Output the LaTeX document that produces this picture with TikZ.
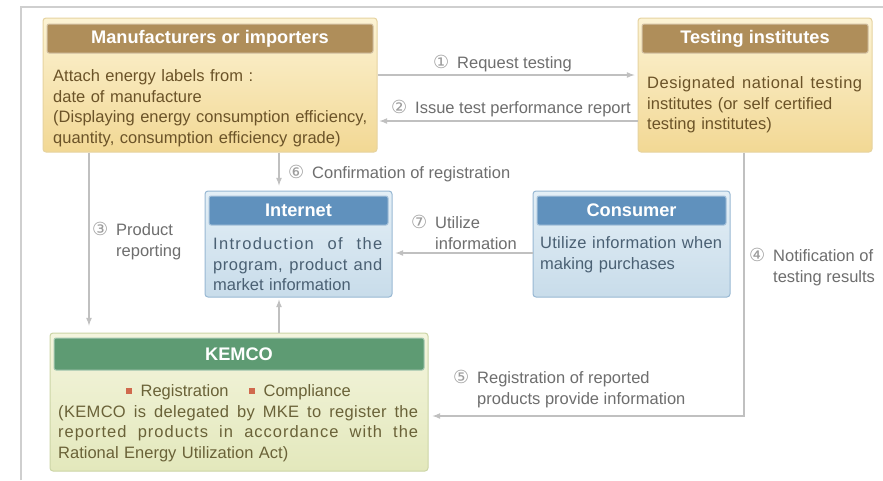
\documentclass[tikz,border=0pt]{standalone}
\usepackage{fontspec}
\setmainfont{Liberation Sans}
\newfontfamily\circfont{DejaVu Sans}
\usetikzlibrary{arrows, calc}

\definecolor{goldhead}{HTML}{AF8E5A}
\definecolor{goldline}{HTML}{E6D3A0}
\definecolor{goldtop}{HTML}{FCF3D4}
\definecolor{goldbot}{HTML}{F2D894}
\definecolor{goldtext}{HTML}{6B5328}
\definecolor{bluehead}{HTML}{6091BD}
\definecolor{blueline}{HTML}{98B8D3}
\definecolor{bluetop}{HTML}{E4EFF6}
\definecolor{bluebot}{HTML}{C8DCEA}
\definecolor{bluetext}{HTML}{4A6073}
\definecolor{greenhead}{HTML}{5E9B73}
\definecolor{greenline}{HTML}{CCD5A6}
\definecolor{greentop}{HTML}{F4F5DE}
\definecolor{greenbot}{HTML}{E3E8BC}
\definecolor{greentext}{HTML}{6A6238}
\definecolor{lblgray}{HTML}{6E6E6E}
\definecolor{numgray}{HTML}{9C9C9C}
\definecolor{arrowgray}{HTML}{C0C0C0}
\definecolor{framegray}{HTML}{CFCFCF}
\definecolor{sqred}{HTML}{D0694D}

\newcommand\bodyfont{\fontsize{16.5}{20.6}\selectfont}
\newcommand\headfont{\fontsize{18.2}{20}\selectfont\bfseries}
\newcommand\cnum[1]{\makebox[24pt][l]{\smash{\circfont\fontsize{18}{18}\selectfont\color{numgray}#1}}}
\newcommand\jline[3][0]{\makebox[#2][s]{\addfontfeature{LetterSpace=#1}\spaceskip=0.28em plus 1fil\relax #3}}
\newcommand\redsq{{\color{sqred}\rule[3pt]{6pt}{6pt}}}

\begin{document}
\begin{tikzpicture}[x=1pt, y=-1pt, >=latex,
  panel/.style={rounded corners=3pt, line width=1pt, inner sep=0pt},
  head/.style={rounded corners=2pt, line width=1pt, inner sep=0pt, text=white, font=\headfont},
  body/.style={anchor=north west, inner sep=0pt, align=left, font=\bodyfont},
  lbl/.style={anchor=north west, inner sep=0pt, align=left, font=\bodyfont, text=lblgray},
  link/.style={draw=arrowgray, line width=1.6pt, ->}]

  \useasboundingbox[fill=white] (0,0) rectangle (883,480);
  \draw[framegray, line width=1.2pt] (21,480) -- (21,7) -- (883,7);

  % manufacturers
  \node[panel, draw=goldline, top color=goldtop, bottom color=goldbot,
    minimum width=334pt, minimum height=134pt] (manuf) at (210,85) {};
  \node[head, fill=goldhead, draw=goldhead!55!white,
    minimum width=326pt, minimum height=29pt] (manufhead) at (210,38.5) {Manufacturers or importers};
  \node[body, text=goldtext, text width=322pt] (manuftext) at (53,69.5)
    {Attach energy labels from :\\date of manufacture\\(Displaying energy consumption efficiency,\\quantity, consumption efficiency grade)};

  % testing institutes
  \node[panel, draw=goldline, top color=goldtop, bottom color=goldbot,
    minimum width=234pt, minimum height=134pt] (testing) at (755,85) {};
  \node[head, fill=goldhead, draw=goldhead!55!white,
    minimum width=226pt, minimum height=29pt] (testinghead) at (755,38.5) {Testing institutes};
  \node[body, text=goldtext, text width=215pt] (testingtext) at (647,76.5)
    {\jline[3]{215pt}{Designated national testing}\\institutes (or self certified\\testing institutes)};

  % internet
  \node[panel, draw=blueline, top color=bluetop, bottom color=bluebot,
    minimum width=187pt, minimum height=106pt] (internet) at (298.5,244) {};
  \node[head, fill=bluehead, draw=bluehead!55!white,
    minimum width=179pt, minimum height=29pt] (internethead) at (298.5,210.5) {Internet};
  \node[body, text=bluetext, text width=169pt] (internettext) at (213,237.5)
    {\jline[8]{169pt}{Introduction of the}\\\jline[3]{169pt}{program, product and}\\market information};

  % consumer
  \node[panel, draw=blueline, top color=bluetop, bottom color=bluebot,
    minimum width=197pt, minimum height=106pt] (consumer) at (631.5,244) {};
  \node[head, fill=bluehead, draw=bluehead!55!white,
    minimum width=189pt, minimum height=29pt] (consumerhead) at (631.5,210.5) {Consumer};
  \node[body, text=bluetext, text width=182pt] (consumertext) at (540,236.5)
    {\jline[1.5]{182pt}{Utilize information when}\\making purchases};

  % kemco
  \node[panel, draw=greenline, top color=greentop, bottom color=greenbot,
    minimum width=378pt, minimum height=138pt] (kemco) at (239,402) {};
  \node[head, fill=greenhead, draw=greenhead!55!white,
    minimum width=370pt, minimum height=32pt] (kemcohead) at (239,354) {KEMCO};
  \node[body, text=greentext, text width=360pt] (kemcotext) at (58,384.5)
    {\makebox[360pt][c]{\redsq\hspace{9pt}Registration\hspace{20pt}\redsq\hspace{9pt}Compliance}\\
     \jline[2]{360pt}{(KEMCO is delegated by MKE to register the}\\
     \jline[6]{360pt}{reported products in accordance with the}\\
     Rational Energy Utilization Act)};

  % connectors
  \coordinate (row1) at (0,75);
  \coordinate (row2) at (0,121);
  \coordinate (row7) at (0,253);
  \coordinate (col3) at (89,0);
  \coordinate (col6) at (279,0);
  \coordinate (bend) at (744,416);

  \draw[link, shorten >=3pt] (manuf.east |- row1) -- (testing.west |- row1);
  \draw[link, shorten >=2pt] (testing.west |- row2) -- (manuf.east |- row2);
  \draw[link, shorten >=5pt] (manuf.south -| col6) -- (internet.north -| col6);
  \draw[link, shorten >=7pt] (manuf.south -| col3) -- (kemco.north -| col3);
  \draw[link, shorten >=2pt] (kemco.north -| col6) -- (internet.south -| col6);
  \draw[link, shorten >=3pt] (consumer.west |- row7) -- (internet.east |- row7);
  \draw[link, shorten >=4pt] (testing.south -| bend) -- (bend) -- (kemco.east |- bend);

  % labels
  \node[lbl] (lreq) at (433,56.5) {\cnum{①}Request testing};
  \node[lbl] (lissue) at (391,101.5) {\cnum{②}Issue test performance report};
  \node[lbl] (lconf) at (288,166.5) {\cnum{⑥}Confirmation of registration};
  \node[lbl] (lprod) at (92,223.5) {\cnum{③}Product\\\hspace*{24pt}reporting};
  \node[lbl] (lutil) at (411,216.5) {\cnum{⑦}Utilize\\\hspace*{24pt}information};
  \node[lbl] (lnotif) at (749,249.5) {\cnum{④}Notification of\\\hspace*{24pt}testing results};
  \node[lbl] (lreg) at (453,371.5) {\cnum{⑤}Registration of reported\\\hspace*{24pt}products provide information};
\end{tikzpicture}
\end{document}
